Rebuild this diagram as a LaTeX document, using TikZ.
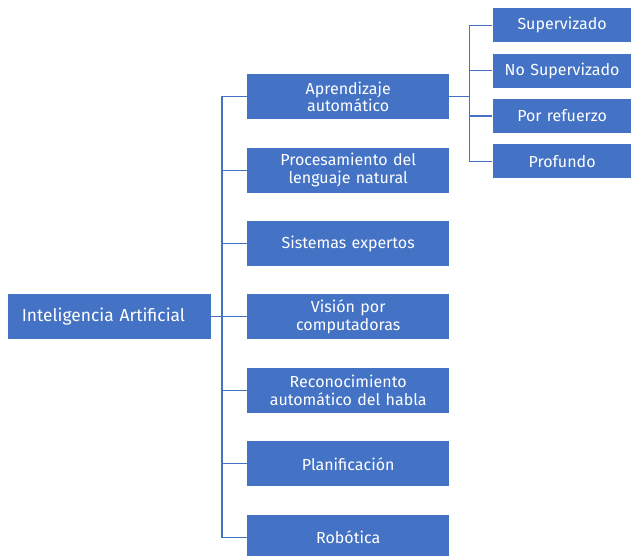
\documentclass[tikz,border=0pt]{standalone}
\usepackage{fontspec}
\setmainfont{Fira Sans}
\usepackage{tikz}
\usetikzlibrary{positioning}

\definecolor{iablue}{HTML}{4472C4}

\tikzset{
    box/.style={fill=iablue, text=white, align=center, inner sep=2pt,
        font=\fontsize{16}{17.5}\selectfont},
    area/.style={box, minimum width=202pt, minimum height=45pt, text width=196pt},
    sub/.style={box, minimum width=139pt, minimum height=34pt, text width=133pt},
    link/.style={draw=iablue, line width=1.1pt}
}

\begin{document}
\begin{tikzpicture}[x=1pt, y=1pt, node distance=28pt]
        \useasboundingbox (0,0) rectangle (631,555);

        % Nodes for areas
        \node[area, anchor=north west] (apr) at (247,481) {Aprendizaje\\autom\'atico};
        \node[area, below=of apr] (pln) {Procesamiento del\\lenguaje natural};
        \node[area, below=of pln] (sis) {Sistemas expertos};
        \node[area, below=of sis] (vis) {Visi\'on por\\computadoras};
        \node[area, below=of vis] (rec) {Reconocimiento\\autom\'atico del habla};
        \node[area, below=of rec] (pla) {Planificaci\'on};
        \node[area, below=of pla] (rob) {Rob\'otica};
        \node[area, left=36pt of vis, minimum width=203pt, text width=175pt, align=left,
            font=\fontsize{17.4}{18}\selectfont] (ia) {Inteligencia Artificial};

        % Nodes for learning types
        \node[sub, right=43pt of apr, yshift=71.5pt] (sup) {Supervizado};
        \node[sub, below=11pt of sup] (nosup) {No Supervizado};
        \node[sub, below=11pt of nosup] (ref) {Por refuerzo};
        \node[sub, below=11pt of ref] (pro) {Profundo};

        % Edges for the tree
        \coordinate[right=11pt of ia.east] (trunk);
        \coordinate[right=20pt of apr.east] (fork);
        \draw[link] (ia.east) -- (trunk);
        \foreach \n in {apr, pln, sis, vis, rec, pla, rob}
            \draw[link] (trunk) |- (\n.west);
        \draw[link] (apr.east) -- (fork);
        \foreach \n in {sup, nosup, ref, pro}
            \draw[link] (fork) |- (\n.west);
    \end{tikzpicture}
\end{document}
